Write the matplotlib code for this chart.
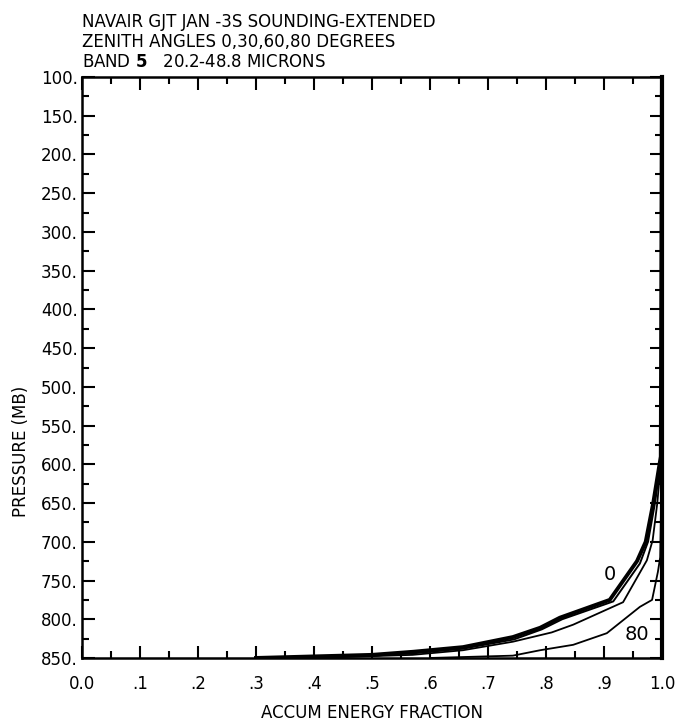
import numpy as np
import matplotlib.pyplot as plt
from matplotlib.ticker import MultipleLocator

# data: accumulated energy fraction vs pressure (mb)
p_0 = [100, 590, 650, 700, 725, 775, 798, 811, 823, 836, 842, 846, 850]
x_0 = [1.0, 0.998, 0.985, 0.972, 0.957, 0.910, 0.824, 0.790, 0.743, 0.657, 0.571, 0.50, 0.30]

p_30 = [100, 590, 650, 700, 728, 777, 800, 813, 826, 838, 844, 847, 850]
x_30 = [1.0, 0.999, 0.988, 0.976, 0.962, 0.916, 0.828, 0.793, 0.745, 0.657, 0.571, 0.50, 0.32]

p_60 = [100, 590, 650, 698, 724, 778, 807, 817, 829, 840, 846, 850]
x_60 = [1.0, 0.999, 0.992, 0.984, 0.974, 0.933, 0.847, 0.81, 0.743, 0.657, 0.57, 0.40]

p_80 = [100, 590, 720, 739, 775, 784, 818, 833, 840, 847, 850]
x_80 = [1.0, 1.0, 0.997, 0.993, 0.983, 0.962, 0.905, 0.847, 0.79, 0.743, 0.60]

title_lines = ["NAVAIR GJT JAN -3S SOUNDING-EXTENDED",
               "ZENITH ANGLES 0,30,60,80 DEGREES",
               "BAND $\\mathbf{5}$   20.2-48.8 MICRONS"]

fig = plt.figure(figsize=(6.81, 7.24), dpi=100)
ax = fig.add_axes([0.1204, 0.0912, 0.8516, 0.8024])

ax.plot(x_0, p_0, color='black', lw=2.8)
ax.plot(x_30, p_30, color='black', lw=1.4)
ax.plot(x_60, p_60, color='black', lw=1.3)
ax.plot(x_80, p_80, color='black', lw=1.3)

ax.set_xlim(0, 1.0)
ax.set_ylim(850, 100)

ax.xaxis.set_major_locator(MultipleLocator(0.1))
ax.xaxis.set_minor_locator(MultipleLocator(0.05))
ax.yaxis.set_major_locator(MultipleLocator(50))
ax.yaxis.set_minor_locator(MultipleLocator(25))
ax.tick_params(which='both', direction='in', top=True, right=True, width=1.5)
ax.tick_params(which='major', length=9, labelsize=12)
ax.tick_params(which='minor', length=5)
ax.tick_params(axis='x', which='major', pad=12)
ax.tick_params(axis='y', which='major', pad=3)

xt = np.arange(0, 1.01, 0.1)
ax.set_xticks(xt)
ax.set_xticklabels(["0.0"] + ["." + str(i) for i in range(1, 10)] + ["1.0"])
yt = np.arange(100, 851, 50)
ax.set_yticks(yt)
ax.set_yticklabels([str(v) + "." for v in yt])

for side in ['left', 'bottom', 'top']:
    ax.spines[side].set_linewidth(1.8)
ax.spines['right'].set_linewidth(3)

ax.set_xlabel("ACCUM ENERGY FRACTION", fontsize=12, labelpad=8)
ax.set_ylabel("PRESSURE (MB)", fontsize=12)
ax.yaxis.set_label_coords(-0.09, 0.355)

ax.text(0.90, 749, "0", fontsize=14)
ax.text(0.936, 827, "80", fontsize=14)

for i, line in enumerate(title_lines):
    fig.text(0.1204, 0.970 - i * 0.028, line, fontsize=12, va='center', ha='left')

fig.savefig("out.png", dpi=100)
